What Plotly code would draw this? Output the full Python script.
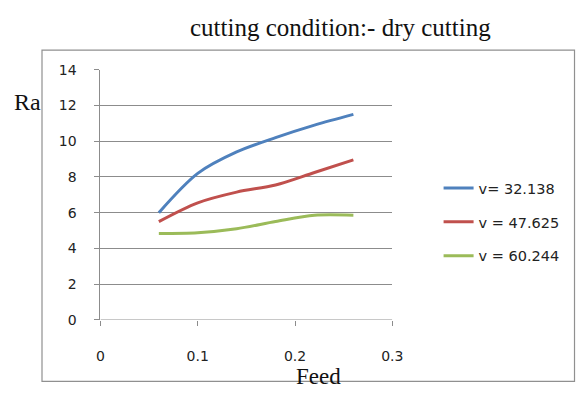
import plotly.graph_objects as go

W, H = 586, 396

feed = [0.06, 0.10, 0.14, 0.18, 0.22, 0.26]
ra_v32 = [6.0, 8.2, 9.4, 10.2, 10.9, 11.5]
ra_v47 = [5.5, 6.55, 7.15, 7.55, 8.25, 8.95]
ra_v60 = [4.84, 4.88, 5.1, 5.5, 5.85, 5.85]
names = ["v= 32.138", "v = 47.625", "v = 60.244"]
colors = ["#4F81BD", "#C0504D", "#9BBB59"]
x_ticks = [0, 0.1, 0.2, 0.3]
x_tick_text = ["0", "0.1", "0.2", "0.3"]
y_ticks = [0, 2, 4, 6, 8, 10, 12, 14]

def px(x):
    return x / W

def py(y):
    return 1 - y / H

fig = go.Figure()
for i, (series, name, c) in enumerate(zip([ra_v32, ra_v47, ra_v60], names, colors)):
    fig.add_trace(go.Scatter(
        x=feed, y=series, mode="lines", name=name,
        line=dict(color=c, width=3, shape="spline", smoothing=0.9),
        legendgroup=f"g{i}",
    ))

grid = "#8C8C8C"
tickfont = dict(family="DejaVu Sans", size=14, color="#222")
serif = dict(family="Liberation Serif", size=24, color="#111")
fig.update_layout(
    width=W, height=H,
    margin=dict(l=0, r=0, t=0, b=0),
    paper_bgcolor="white", plot_bgcolor="white",
    showlegend=True,
    legend=dict(
        x=px(446), y=py(171), xanchor="left", yanchor="top",
        font=dict(family="DejaVu Sans", size=14.5, color="#222"),
        tracegroupgap=12, bgcolor="rgba(0,0,0,0)", itemwidth=30,
    ),
    xaxis=dict(
        domain=[px(99), px(398.5)], range=[0, 0.3],
        tickvals=x_ticks, ticktext=x_tick_text,
        showgrid=False, zeroline=False, showline=False,
        ticks="outside", ticklen=5, tickcolor=grid,
        ticklabelstandoff=18,
        tickfont=tickfont,
        anchor="y",
    ),
    yaxis=dict(
        domain=[py(325), py(64.3)], range=[0, 14],
        tickvals=y_ticks,
        showgrid=True, gridcolor=grid, gridwidth=1,
        zeroline=False, showline=True, linecolor=grid, linewidth=1,
        ticks="outside", ticklen=5, tickcolor=grid,
        ticklabelstandoff=15,
        tickfont=tickfont,
    ),
    shapes=[
        dict(type="rect", xref="paper", yref="paper",
             x0=px(39), x1=px(585.5), y0=py(389), y1=py(44),
             line=dict(color="#909090", width=1.2), layer="below"),
        dict(type="line", xref="x", yref="y", x0=0, x1=0.3, y0=0, y1=0,
             line=dict(color=grid, width=1)),
    ],
    annotations=[
        dict(text="cutting condition:- dry cutting", x=px(345), y=py(20),
             xref="paper", yref="paper", showarrow=False,
             xanchor="center", yanchor="middle",
             font=dict(family="Liberation Serif", size=25, color="#111")),
        dict(text="Ra", x=px(24), y=py(98), xref="paper", yref="paper",
             showarrow=False, xanchor="center", yanchor="middle", font=serif),
        dict(text="Feed", x=px(323), y=py(384), xref="paper", yref="paper",
             showarrow=False, xanchor="center", yanchor="middle",
             font=dict(family="Liberation Serif", size=23, color="#111")),
    ],
)

fig.write_html("out.html")
